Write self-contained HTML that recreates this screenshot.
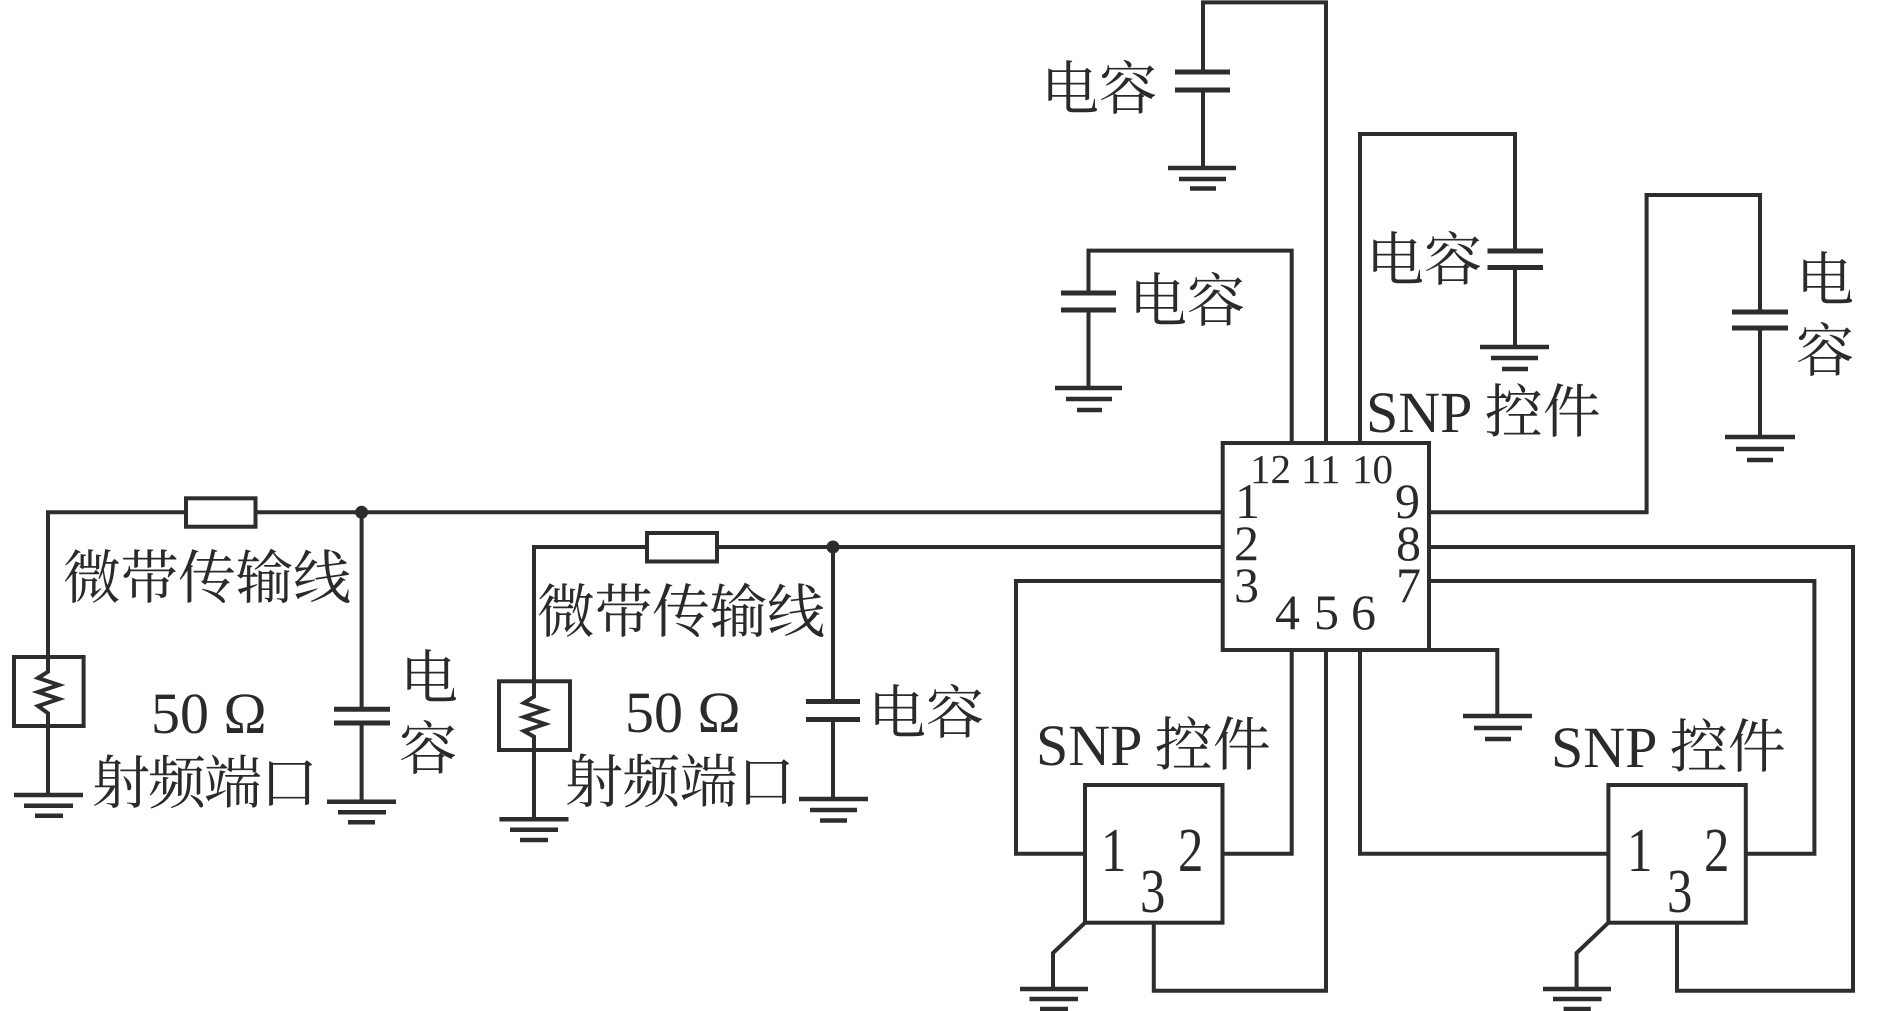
<!DOCTYPE html>
<html><head><meta charset="utf-8"><style>
html,body{margin:0;padding:0;background:#fff;width:1890px;height:1011px;overflow:hidden}
svg{display:block}
text{fill:#2a2a2a}
.c{font-family:"Liberation Serif","Noto Serif CJK SC",serif;font-size:58px}
.n{font-family:"Liberation Serif","Noto Serif CJK SC",serif;font-size:58px}
.p{font-family:"Liberation Serif",serif;font-size:50px}
.s{font-family:"Liberation Serif",serif;font-size:41px}
.b{font-family:"Liberation Serif",serif;font-size:62px}
</style></head><body>
<svg width="1890" height="1011" viewBox="0 0 1890 1011" xmlns="http://www.w3.org/2000/svg">
<rect width="1890" height="1011" fill="#fff"/>
<g fill="none" stroke="#2d2d2d" stroke-width="4" stroke-linejoin="miter">
<path d="M1222 512.3H48V657M186 512.3"/>
<rect x="186" y="498.3" width="69.5" height="28.4" fill="#fff"/>
<path d="M361.6 512.3V709M361.6 723V801"/>
<path d="M334 709.3H390M334 723H390" stroke-width="5"/>
<rect x="14" y="657" width="69.6" height="69" />
<path d="M48 657V671.7L38 678L59 685L38 692L59 699L38 706L48 713.3V795"/>
<path d="M1222 547H534V681"/>
<rect x="647" y="533" width="70" height="28.5" fill="#fff"/>
<path d="M833 547V701M833 719.5V799"/>
<path d="M806 701.5H860M806 719.5H860" stroke-width="5"/>
<rect x="499" y="681.3" width="71" height="68.7"/>
<path d="M534 681V696.7L524 703L545 710L524 717L545 724L524 731L534 736.7V819"/>
<rect x="1222.7" y="443" width="206.3" height="207"/>
<path d="M1291.7 443V250.6H1088.5V293M1088.5 310V388"/>
<path d="M1061 293H1116M1061 310H1116" stroke-width="5"/>
<path d="M1326 443V2.4H1203V72M1203 90V169"/>
<path d="M1175 72H1230M1175 90H1230" stroke-width="5"/>
<path d="M1360 443V134H1515V251M1515 267.5V347"/>
<path d="M1487.5 251H1543M1487.5 267.5H1543" stroke-width="5"/>
<path d="M1429 512.3H1646.6V195H1760V312M1760 328V436"/>
<path d="M1732 312H1788M1732 328H1788" stroke-width="5"/>
<path d="M1429 547H1853V990.7H1677V922.7"/>
<path d="M1429 581H1814.4V853.7H1745.8"/>
<path d="M1222.7 581H1016V853.7H1085"/>
<path d="M1291.7 650V853.7H1222.5"/>
<path d="M1326 650V990.7H1153.8V922.7"/>
<path d="M1360 650V853.7H1608.4"/>
<path d="M1429 650H1497.3V716"/>
<rect x="1085" y="785" width="137.5" height="137.7"/>
<rect x="1608.4" y="785" width="137.4" height="137.7"/>
<path d="M1085 922.7L1053 953V988"/>
<path d="M1608.4 922.7L1576.6 953V988"/>
<g stroke-width="4.5">
<path d="M14 795H83M24 805.7H73M35 815.7H63"/>
<path d="M327 801.7H396M338 812.3H386M348 822.3H375"/>
<path d="M499.4 819.3H568.5M510 829.7H558M520 840H548"/>
<path d="M799 799H868M810 810H857M820 820.5H847"/>
<path d="M1168 168H1236M1179 179H1226M1190 188.5H1216"/>
<path d="M1055 388H1122M1066 399H1112M1077 410H1102"/>
<path d="M1480 347H1549M1491 358H1538M1502 369H1528"/>
<path d="M1725 437H1795M1736 449H1784M1747 460H1773"/>
<path d="M1463 716H1532M1474 728H1522M1485 739H1511"/>
<path d="M1020 989H1088M1029.5 999H1078M1040 1009H1068"/>
<path d="M1543 989H1611M1553 999H1601.6M1563.6 1009H1590.8"/>
</g>
</g>
<circle cx="361.6" cy="512.3" r="6.5" fill="#2d2d2d"/>
<circle cx="833" cy="547" r="6.5" fill="#2d2d2d"/>
<text class="c" x="63" y="598" textLength="288">微带传输线</text>
<text class="n" x="151" y="733">50 Ω</text>
<text class="c" x="92" y="803" textLength="226">射频端口</text>
<text class="c" x="400" y="698">电</text>
<text class="c" x="399" y="769">容</text>
<text class="c" x="537" y="632" textLength="288">微带传输线</text>
<text class="n" x="625" y="732">50 Ω</text>
<text class="c" x="565" y="802" textLength="230">射频端口</text>
<text class="c" x="868" y="733" textLength="116">电容</text>
<text class="c" x="1041" y="109" textLength="116">电容</text>
<text class="c" x="1129" y="321" textLength="116">电容</text>
<text class="c" x="1366" y="280" textLength="116">电容</text>
<text class="c" x="1796" y="300">电</text>
<text class="c" x="1796" y="371">容</text>
<text class="n" x="1366" y="432">SNP 控件</text>
<text class="n" x="1036" y="765">SNP 控件</text>
<text class="n" x="1551" y="767">SNP 控件</text>
<text class="s" x="1250" y="483">12</text>
<text class="s" x="1301" y="483">11</text>
<text class="s" x="1352" y="483">10</text>
<text class="p" x="1235" y="518">1</text>
<text class="p" x="1234" y="560">2</text>
<text class="p" x="1234" y="602">3</text>
<text class="p" x="1395" y="518">9</text>
<text class="p" x="1396" y="560">8</text>
<text class="p" x="1396" y="602">7</text>
<text class="p" x="1275" y="629">4</text>
<text class="p" x="1314" y="629">5</text>
<text class="p" x="1351" y="629">6</text>
<text class="b" transform="translate(1101 871) scale(.82 1)">1</text>
<text class="b" transform="translate(1178 871) scale(.82 1)">2</text>
<text class="b" transform="translate(1140 912) scale(.82 1)">3</text>
<text class="b" transform="translate(1627 871) scale(.82 1)">1</text>
<text class="b" transform="translate(1704 871) scale(.82 1)">2</text>
<text class="b" transform="translate(1667 912) scale(.82 1)">3</text>
</svg>
</body></html>
